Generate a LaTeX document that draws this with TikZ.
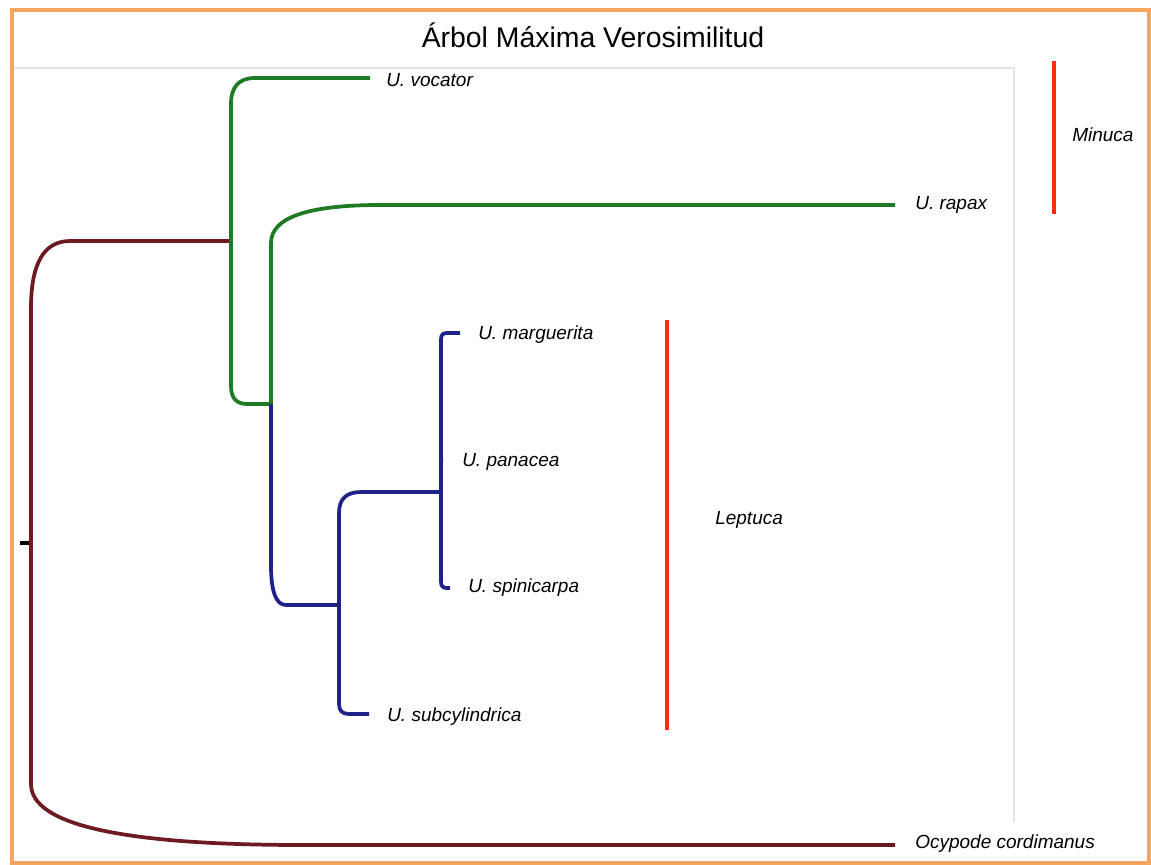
\documentclass[tikz,border=0pt]{standalone}
\usepackage{fontspec}
\setmainfont{Liberation Sans}
\usetikzlibrary{calc}
\definecolor{framecol}{HTML}{F6A55E}
\definecolor{gridcol}{HTML}{E4E4E4}
\definecolor{rootcol}{HTML}{6E1A22}
\definecolor{minucacol}{HTML}{1F7A24}
\definecolor{leptucacol}{HTML}{20228A}
\definecolor{barcol}{HTML}{FF2D0A}

\begin{document}
\begin{tikzpicture}[x=0.75pt,y=-0.75pt,
  branch/.style={line width=2.8pt},
  rootbranch/.style={branch, rootcol},
  minbranch/.style={branch, minucacol},
  lepbranch/.style={branch, leptucacol},
  % vertical run along the parent's x, parabolic corner, then horizontal to the child
  elbow/.style 2 args={to path={-- ($(\tikztostart |- \tikztotarget)+(0,#2)$)
      .. controls ($(\tikztostart |- \tikztotarget)+(0,{(#2)/3})$)
           and ($(\tikztostart |- \tikztotarget)+({(#1)/3},0)$)
      .. ($(\tikztostart |- \tikztotarget)+(#1,0)$)
      -- (\tikztotarget)}},
  taxon/.style={font=\fontsize{14.25}{17}\selectfont\itshape, anchor=base west, inner sep=0pt},
  genusbar/.style={barcol, line width=2.5pt},
  genus/.style={font=\fontsize{14.25}{17}\selectfont\itshape, anchor=base west, inner sep=0pt}]

\useasboundingbox (0,0) rectangle (1151,864);

% faint plotting frame
\draw[gridcol, line width=0.8pt] (13,68) -- (1014,68) -- (1014,822);

% title
\node[font=\fontsize{21.3}{25}\selectfont, anchor=base, inner sep=0pt] (title) at (593,47) {Árbol Máxima Verosimilitud};

% internal nodes
\coordinate (R) at (31,543);
\coordinate (G) at (231,241);
\coordinate (H) at (271,404);
\coordinate (B) at (339,605);
\coordinate (C) at (441,492);
\coordinate (rootstub) at (20,543);

% leaf tips
\coordinate (tvoc) at (370,78);
\coordinate (trap) at (895,205);
\coordinate (tmar) at (460,333);
\coordinate (tpan) at (443,460);
\coordinate (tspi) at (450,588);
\coordinate (tsub) at (369,714);
\coordinate (tocy) at (895,845);

% root and outgroup
\draw[line width=2.8pt, black] (rootstub) -- (R);
\draw[rootbranch] (R) to[elbow={39}{67}] (G);
\draw[rootbranch] (R) to[elbow={272}{-61}] (tocy);

% Minuca clade
\draw[minbranch] (G) to[elbow={24}{26}] (tvoc);
\draw[minbranch] (G) to[elbow={16}{-18}] (H);
\draw[minbranch] (H) to[elbow={109}{38}] (trap);

% Leptuca clade
\draw[lepbranch] (H) to[elbow={15}{-40}] (B);
\draw[lepbranch] (B) to[elbow={22}{21}] (C);
\draw[lepbranch] (B) to[elbow={10}{-10}] (tsub);
\draw[lepbranch] (C) to[elbow={6}{6}] (tmar);
\draw[lepbranch] (C) to[elbow={1}{1}] (tpan);
\draw[lepbranch] (C) to[elbow={6}{-6}] (tspi);

% taxon labels
\node[taxon] (lvoc) at (386,86.5) {U. vocator};
\node[taxon] (lrap) at (915,209.5) {U. rapax};
\node[taxon] (lmar) at (478,339) {U. marguerita};
\node[taxon] (lpan) at (462,466.5) {U. panacea};
\node[taxon] (lspi) at (468,592.5) {U. spinicarpa};
\node[taxon] (lsub) at (387,721) {U. subcylindrica};
\node[taxon] (locy) at (915,848) {Ocypode cordimanus};

% genus bars
\coordinate (mtop) at (1054,61);
\coordinate (mbot) at (1054,214);
\draw[genusbar] (mtop) -- (mbot);
\node[genus] (minuca) at (1072,141.5) {Minuca};

\coordinate (ltop) at (667,320);
\coordinate (lbot) at (667,730);
\draw[genusbar] (ltop) -- (lbot);
\node[genus] (leptuca) at (715,524.5) {Leptuca};

% outer frame
\draw[framecol, line width=3pt] (11.5,10) rectangle (1149,862.5);
\end{tikzpicture}
\end{document}
